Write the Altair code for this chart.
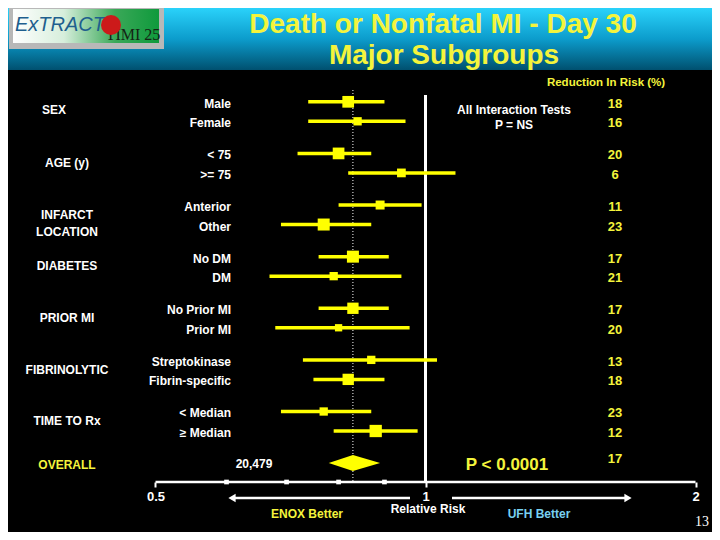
import math
import altair as alt
import pandas as pd

# ---------------- data ----------------
groups = ["SEX", "AGE (y)", "INFARCT\nLOCATION", "DIABETES", "PRIOR MI",
          "FIBRINOLYTIC", "TIME TO Rx"]
subgroups = [["Male", "Female"], ["< 75", ">= 75"], ["Anterior", "Other"],
             ["No DM", "DM"], ["No Prior MI", "Prior MI"],
             ["Streptokinase", "Fibrin-specific"], ["< Median", "≥ Median"]]
rel_risk = [0.82, 0.84, 0.80, 0.94, 0.89, 0.77, 0.83, 0.79, 0.83, 0.80, 0.87, 0.82, 0.77, 0.88]
ci_low = [0.74, 0.74, 0.72, 0.82, 0.80, 0.69, 0.76, 0.67, 0.76, 0.68, 0.73, 0.75, 0.69, 0.79]
ci_high = [0.90, 0.95, 0.87, 1.08, 0.99, 0.87, 0.91, 0.94, 0.91, 0.96, 1.03, 0.90, 0.87, 0.98]
reduction = [18, 16, 20, 6, 11, 23, 17, 21, 17, 20, 13, 18, 23, 12]
weight = [0.95, 0.48, 0.95, 0.53, 0.56, 1.0, 1.0, 0.48, 0.89, 0.37, 0.48, 0.89, 0.48, 1.05]
overall_rr, overall_low, overall_high = 0.83, 0.78, 0.89
overall_reduction = 17
overall_n = "20,479"
overall_p = "P < 0.0001"
axis_ticks = [0.5, 1, 2]
minor_ticks = [0.6, 0.7, 0.8, 0.9]

# ---------------- layout / style ----------------
W, H = 704, 524
OX, OY = 8, 8
SANS = "Liberation Sans, Arial, sans-serif"
SERIF = "Liberation Serif, Times New Roman, serif"
YEL = "#ffff00"
YTXT = "#f4f43c"
WHITE = "#ffffff"

X_ONE, PPD = 425.5, 270.0           # pixel of RR=1 and pixels per doubling
GAP, STEP, Y_FIRST = 2.647, 19.5, 101.8

xs = alt.Scale(type="log", domain=[2 ** (-(X_ONE - OX) / PPD), 2 ** ((W - (X_ONE - OX)) / PPD)],
               range=[0, W], nice=False)
ys = alt.Scale(domain=[(0 - (Y_FIRST - OY)) / STEP, (H - (Y_FIRST - OY)) / STEP],
               range=[0, H], nice=False, zero=False)
AX = alt.Axis(values=axis_ticks, format="~g", offset=-(H - (482 - OY)), domain=False, grid=False,
              tickColor=WHITE, tickSize=5, tickWidth=2, labelColor=WHITE, labelFont=SANS,
              labelFontSize=13, labelFontWeight="bold", labelPadding=3, labelOverlap=False,
              labelFlush=False, title=None)


def X(field=None, datum=None):
    if datum is not None:
        return alt.X(datum=datum, type="quantitative", scale=xs, axis=AX)
    return alt.X(field, type="quantitative", scale=xs, axis=AX)


def Y(field):
    return alt.Y(field, type="quantitative", scale=ys, axis=None)


rows = []
k = 0
for g, subs in enumerate(subgroups):
    for i, s in enumerate(subs):
        rows.append(dict(group=groups[g], sub=s, slot=g * GAP + i, rr=rel_risk[k],
                         lo=ci_low[k], hi=ci_high[k], red=str(reduction[k]), w=weight[k]))
        k += 1
df = pd.DataFrame(rows)
gdf = pd.DataFrame({"group": groups, "slot": [g * GAP + 0.5 for g in range(len(groups))]})
o_slot = len(groups) * GAP
half = 8 / STEP
diamond = pd.DataFrame({"x": [overall_low, overall_rr, overall_high],
                        "y": [o_slot, o_slot - half, o_slot],
                        "y2": [o_slot, o_slot + half, o_slot]})
odf = pd.DataFrame({"slot": [o_slot], "rr": [overall_rr], "red": [str(overall_reduction)]})

ONE = alt.Data(values=[{"k": 0}])


def T(text, x, y, size=12, color=WHITE, align="center", weight="bold", font=SANS,
      style="normal", baseline="middle"):
    return alt.Chart(ONE).mark_text(text=text, align=align, baseline=baseline, fontSize=size,
                                    fontWeight=weight, font=font, fontStyle=style,
                                    color=color).encode(x=alt.value(x - OX), y=alt.value(y - OY))


def R(x1, y1, x2, y2, color):
    return alt.Chart(ONE).mark_rect(color=color).encode(
        x=alt.value(max(x1 - OX, 0)), x2=alt.value(x2 - OX),
        y=alt.value(max(y1 - OY, 0)), y2=alt.value(y2 - OY))


header_grad = alt.LinearGradient(gradient="linear", x1=0, y1=0, x2=0, y2=1, stops=[
    alt.GradientStop(offset=0, color="#2ad2fa"),
    alt.GradientStop(offset=0.5, color="#0c9ccc"),
    alt.GradientStop(offset=1, color="#00506f")])
logo_grad = alt.LinearGradient(gradient="linear", x1=0, y1=0, x2=1, y2=0, stops=[
    alt.GradientStop(offset=0, color="#ffffff"),
    alt.GradientStop(offset=0.35, color="#d6eedb"),
    alt.GradientStop(offset=0.7, color="#3aa858"),
    alt.GradientStop(offset=1, color="#0f9a3c")])

layers = [
    R(0, 0, 720, 70, header_grad),
    R(9, 5, 164, 49, "#b8b8b8"),
    R(13, 9, 159, 43, logo_grad),
    T("ExTRACT", 15, 31, size=20, color="#1e5f8e", align="left", style="italic",
      weight="normal", baseline="alphabetic"),
    T("TIMI 25", 133, 40, size=16, color="#142414", weight="normal", font=SERIF,
      baseline="alphabetic"),
    alt.Chart(ONE).mark_point(shape="circle", filled=True, opacity=1, color="#cc1a1a",
                              size=400).encode(x=alt.value(111 - OX), y=alt.value(25 - OY)),
    T("Death or Nonfatal MI - Day 30", 443, 33, size=28, color=YTXT, baseline="alphabetic"),
    T("Major Subgroups", 444, 64, size=28, color=YTXT, baseline="alphabetic"),
    T("Reduction In Risk (%)", 606, 83, size=11.5, color=YTXT),
    T("All Interaction Tests", 514, 110, size=12),
    T("P = NS", 514, 125, size=12),
]

# reference lines
layers.append(alt.Chart(ONE).mark_rule(color=WHITE, strokeWidth=3).encode(
    x=X(datum=1), y=alt.value(95 - OY), y2=alt.value(482 - OY)))
layers.append(alt.Chart(odf).mark_rule(color=WHITE, strokeWidth=1, strokeDash=[1, 2]).encode(
    x=X("rr"), y=alt.value(90 - OY), y2=alt.value(482 - OY)))

# CI lines and squares
layers.append(alt.Chart(df).mark_rule(color=YEL, strokeWidth=3.5).encode(
    x=X("lo"), x2=alt.X2("hi"), y=Y("slot")))
layers.append(alt.Chart(df).mark_square(color=YEL, filled=True, opacity=1).encode(
    x=X("rr"), y=Y("slot"),
    size=alt.Size("w:Q", scale=alt.Scale(domain=[0, 1], range=[0, 144]), legend=None)))
layers.append(alt.Chart(diamond).mark_area(color=YEL, opacity=1).encode(
    x=X("x"), y=Y("y"), y2=alt.Y2("y2")))

# labels
layers.append(alt.Chart(df).mark_text(align="right", fontSize=12, fontWeight="bold", font=SANS,
                                      color=WHITE, dy=2).encode(
    x=alt.value(231 - OX), y=Y("slot"), text="sub:N"))
layers.append(alt.Chart(df).mark_text(align="center", fontSize=13, fontWeight="bold", font=SANS,
                                      color=YTXT, dy=2).encode(
    x=alt.value(615 - OX), y=Y("slot"), text="red:N"))
layers.append(alt.Chart(gdf).transform_filter("datum.group != 'SEX'").mark_text(
    align="center", fontSize=12, fontWeight="bold", font=SANS, color=WHITE, lineBreak="\n",
    lineHeight=17).encode(x=alt.value(67 - OX), y=Y("slot"), text="group:N"))
layers.append(alt.Chart(gdf).transform_filter("datum.group == 'SEX'").mark_text(
    align="center", fontSize=12, fontWeight="bold", font=SANS, color=WHITE, dy=-2).encode(
    x=alt.value(54 - OX), y=Y("slot"), text="group:N"))
layers.append(alt.Chart(odf).mark_text(align="center", fontSize=13, fontWeight="bold", font=SANS,
                                       color=YTXT, dy=-4).encode(
    x=alt.value(615 - OX), y=Y("slot"), text="red:N"))
layers += [
    T("OVERALL", 67, 465, size=12, color=YTXT),
    T(overall_n, 254, 464, size=12),
    T(overall_p, 507, 465, size=17, color=YTXT),
]

# axis pieces
layers.append(alt.Chart(ONE).mark_rule(color=WHITE, strokeWidth=2.5).encode(
    x=X(datum=axis_ticks[0]), x2=alt.X2(datum=axis_ticks[-1]), y=alt.value(482 - OY)))
layers.append(alt.Chart(pd.DataFrame({"t": minor_ticks})).mark_square(
    color=WHITE, filled=True, opacity=1, size=22).encode(x=X("t"), y=alt.value(482 - OY)))

# arrows
layers.append(alt.Chart(ONE).mark_rule(color=WHITE, strokeWidth=2.5).encode(
    x=alt.value(410 - OX), x2=alt.value(232 - OX), y=alt.value(498 - OY)))
layers.append(alt.Chart(ONE).mark_point(shape="triangle-left", filled=True, opacity=1,
                                        color=WHITE, size=70).encode(
    x=alt.value(232 - OX), y=alt.value(498 - OY)))
layers.append(alt.Chart(ONE).mark_rule(color=WHITE, strokeWidth=2.5).encode(
    x=alt.value(452 - OX), x2=alt.value(628 - OX), y=alt.value(498 - OY)))
layers.append(alt.Chart(ONE).mark_point(shape="triangle-right", filled=True, opacity=1,
                                        color=WHITE, size=70).encode(
    x=alt.value(628 - OX), y=alt.value(498 - OY)))
layers += [
    T("Relative Risk", 428, 509, size=12),
    T("ENOX Better", 307, 514, size=12, color=YTXT),
    T("UFH Better", 539, 514, size=12, color="#78d0f0"),
    T("13", 702, 522, size=14, weight="normal", font=SERIF),
]

chart = alt.layer(*layers).properties(
    width=W, height=H, background="black", padding=0,
    autosize=alt.AutoSizeParams(type="none")
).configure_view(stroke=None)

chart.save("out.html", embed_options={"renderer": "svg", "actions": False})
